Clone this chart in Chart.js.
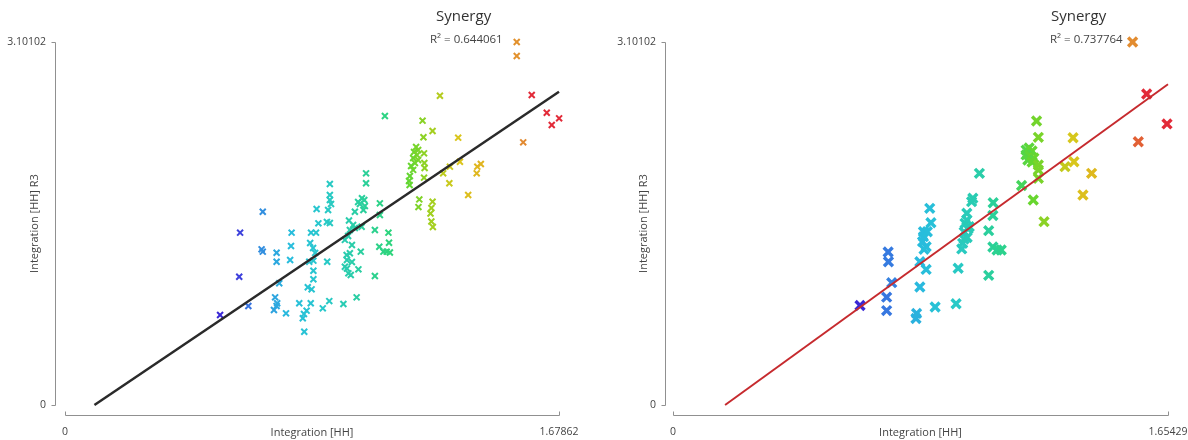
<!DOCTYPE html>
<html>
<head>
<meta charset="utf-8">
<script src="https://cdn.jsdelivr.net/npm/chart.js@4.4.1/dist/chart.umd.min.js"></script>
<style>
  html, body { margin: 0; padding: 0; background: #fff; }
  #wrap { display: flex; width: 1188px; height: 440px; }
</style>
</head>
<body>
<div id="wrap">
  <canvas id="left" width="594" height="440"></canvas>
  <canvas id="right" width="594" height="440"></canvas>
</div>
<script>
// ---- data ----
var leftX = [0.527,0.595,0.592,0.623,0.672,0.668,0.672,0.719,0.719,0.728,0.714,0.721,0.719,0.710,0.751,
  0.770,0.768,0.765,0.796,0.821,0.812,0.808,0.813,0.825,0.838,0.835,0.844,0.844,0.830,0.844,0.833,0.843,0.850,0.836,0.853,0.861,0.855,0.891,0.898,0.876,0.890,0.900,0.894,0.900,0.900,0.904,0.900,
  0.946,0.951,0.958,0.963,0.971,0.957,0.968,0.951,0.962,0.975,0.968,0.979,0.965,0.985,0.958,0.975,0.991,0.997,1.005,1.008,0.985,0.996,1.009,1.017,1.002,1.014,1.019,1.023,1.023,1.053,1.053,1.068,1.070,1.070,1.082,1.093,1.104,1.099,1.101,1.087,
  1.215,1.249,1.218,1.274,1.193,1.200,1.186,1.196,1.183,1.200,1.189,1.176,1.183,1.172,1.169,1.171,1.220,1.221,1.222,1.220,1.204,1.201,1.249,1.245,1.242,1.245,1.250,
  1.336,1.285,1.308,1.342,1.306,1.401,1.413,1.399,1.370,
  1.535,1.535,1.557,1.586,1.637,1.654,1.679];
var leftY = [0.769,1.472,1.096,0.846,1.651,1.330,1.310,1.301,1.224,1.040,0.920,0.869,0.846,0.812,0.783,
  1.472,1.358,1.239,0.869,0.806,0.777,0.741,0.626,1.006,0.988,0.869,1.074,1.147,1.224,1.233,1.384,1.341,1.299,1.472,1.472,1.552,1.674,1.224,0.888,0.826,1.563,1.555,1.666,1.794,1.751,1.717,1.888,
  0.863,1.181,1.166,1.125,1.111,1.281,1.296,1.410,1.444,1.367,1.495,1.538,1.576,1.512,1.239,1.222,0.920,1.159,1.310,1.523,1.651,1.734,1.766,1.751,1.717,1.666,1.700,1.979,1.894,1.102,1.495,1.352,1.623,1.723,1.310,1.310,1.303,1.472,1.386,2.469,
  2.429,2.341,2.287,2.642,2.204,2.178,2.161,2.136,2.110,2.093,2.067,2.042,2.008,1.956,1.914,1.879,2.150,2.067,2.025,1.942,1.756,1.691,1.737,1.683,1.636,1.568,1.521,
  2.284,1.979,2.036,2.078,1.894,2.036,2.059,1.979,1.794,
  3.101,2.981,2.244,2.648,2.497,2.392,2.449];

var rightX = [0.625,0.714,0.714,0.731,0.720,0.719,0.814,0.812,0.825,0.846,
  0.825,0.839,0.846,0.834,0.837,0.837,0.850,0.862,0.858,0.876,
  0.946,0.953,0.965,0.968,0.973,0.983,0.973,0.986,0.976,0.982,
  0.990,0.982,0.998,1.002,1.024,1.055,1.055,1.069,1.070,1.069,
  1.083,1.097,1.165,1.204,1.240,1.215,1.221,1.180,1.190,1.200,
  1.180,1.193,1.206,1.186,1.200,1.221,1.221,1.221,1.310,1.340,
  1.337,1.399,1.370,1.536,1.555,1.583,1.651];
var rightY = [0.850,0.807,0.921,1.045,1.224,1.307,0.782,0.739,1.008,1.158,
  1.224,1.330,1.352,1.395,1.438,1.480,1.480,1.557,1.680,0.837,
  0.865,1.168,1.333,1.381,1.418,1.431,1.478,1.504,1.552,1.580,
  1.523,1.638,1.737,1.766,1.979,1.108,1.489,1.619,1.728,1.350,
  1.324,1.324,1.875,1.751,1.566,2.426,2.287,2.178,2.196,2.170,
  2.136,2.127,2.110,2.093,2.076,2.050,2.008,1.937,2.036,2.078,
  2.283,1.979,1.794,3.101,2.249,2.657,2.401];

var leftTrendX = [0.100, 1.67862];
var leftTrendY = [0, 2.676];
var rightTrendX = [0.174, 1.65429];
var rightTrendY = [0, 2.740];

var yTicks = [0, 3.10102];
var yTickLabels = ['0', '3.10102'];
var leftXTicks = [0, 1.67862];
var leftXTickLabels = ['0', '1.67862'];
var rightXTicks = [0, 1.65429];
var rightXTickLabels = ['0', '1.65429'];

var chartTitle = 'Synergy';
var leftR2 = 'R\u00B2 = 0.644061';
var rightR2 = 'R\u00B2 = 0.737764';
var xTitle = 'Integration [HH]';
var yTitle = 'Integration [HH] R3';

// ---- colours: rainbow along x ----
var stops = [
  [0.00, [58, 40, 214]],
  [0.06, [62, 66, 220]],
  [0.085, [55, 118, 224]],
  [0.20, [40, 188, 222]],
  [0.30, [40, 200, 204]],
  [0.40, [42, 206, 165]],
  [0.50, [45, 212, 125]],
  [0.56, [100, 214, 48]],
  [0.62, [160, 208, 32]],
  [0.70, [218, 198, 28]],
  [0.80, [226, 172, 32]],
  [0.90, [226, 136, 50]],
  [0.915, [226, 42, 56]],
  [1.00, [226, 42, 56]]
];
function rainbow(t) {
  t = Math.max(0, Math.min(1, t));
  for (var i = 1; i < stops.length; i++) {
    if (t <= stops[i][0]) {
      var a = stops[i - 1], b = stops[i];
      var f = (t - a[0]) / (b[0] - a[0] || 1);
      var c = a[1].map(function (v, k) { return Math.round(v + (b[1][k] - v) * f); });
      return 'rgb(' + c.join(',') + ')';
    }
  }
  return 'rgb(226,42,56)';
}

var font = "'Open Sans', 'DejaVu Sans', sans-serif";

function makeChart(id, o) {
  var pts = o.xs.map(function (x, i) { return {x: x, y: o.ys[i]}; });
  var xmin = Math.min.apply(null, o.xs), xmax = Math.max.apply(null, o.xs);

  var axesPlugin = {
    id: 'axes' + id,
    afterDraw: function (chart) {
      var ctx = chart.ctx, a = chart.chartArea;
      var sx = chart.scales.x, sy = chart.scales.y;
      ctx.save();
      ctx.strokeStyle = '#909090';
      ctx.lineWidth = 1;
      ctx.beginPath();
      var ax = Math.round(a.left - o.yGap) + 0.5;
      var yt = Math.round(sy.getPixelForValue(o.yTicks[1])) + 0.5;
      var yb = Math.round(sy.getPixelForValue(o.yTicks[0])) + 0.5;
      ctx.moveTo(ax - 4, yt); ctx.lineTo(ax, yt); ctx.lineTo(ax, yb); ctx.lineTo(ax - 4, yb);
      var ay = Math.round(a.bottom + 10) + 0.5;
      var xl = Math.round(sx.getPixelForValue(o.xTicks[0])) + 0.5;
      var xr = Math.round(sx.getPixelForValue(o.xTicks[1])) + 0.5;
      ctx.moveTo(xl, ay - 4); ctx.lineTo(xl, ay); ctx.lineTo(xr, ay); ctx.lineTo(xr, ay - 4);
      ctx.stroke();

      ctx.textBaseline = 'middle';
      ctx.textAlign = 'left';
      ctx.fillStyle = '#333';
      ctx.font = '15px ' + font;
      ctx.fillText(chartTitle, o.titleX, 17);
      ctx.fillStyle = '#444';
      ctx.font = '11.5px ' + font;
      ctx.fillText(o.r2, o.r2X, 40);
      ctx.restore();
    }
  };

  return new Chart(document.getElementById(id), {
    type: 'scatter',
    data: {
      datasets: [{
        type: 'line',
        data: o.tx.map(function (x, i) { return {x: x, y: o.ty[i]}; }),
        borderColor: o.lineColor,
        borderWidth: o.lineWidth,
        pointRadius: 0,
        fill: false,
        clip: false
      }, {
        data: pts,
        pointStyle: 'crossRot',
        pointRadius: o.radius,
        pointBorderWidth: o.markWidth,
        borderWidth: o.markWidth,
        pointBorderColor: function (c) {
          if (!c.raw) return '#000';
          return rainbow((c.raw.x - xmin) / (xmax - xmin));
        },
        clip: false
      }]
    },
    options: {
      responsive: false,
      animation: false,
      events: [],
      layout: { padding: { left: 0, top: 42, right: 594 - o.areaRight, bottom: 0 } },
      plugins: { legend: { display: false }, tooltip: { enabled: false }, title: { display: false } },
      scales: {
        x: {
          type: 'linear', min: o.xTicks[0], max: o.xTicks[1],
          grid: { display: false, drawTicks: false }, border: { display: false },
          afterBuildTicks: function (s) { s.ticks = o.xTicks.map(function (v) { return {value: v}; }); },
          afterFit: function (s) { s.height = 35; s.paddingLeft = 0; s.paddingRight = 0; },
          ticks: {
            padding: 21, color: '#444', font: { family: font, size: 10.5 }, maxRotation: 0,
            callback: function (v, i) { return o.xLabels[i]; }
          },
          title: { display: true, text: xTitle, color: '#444', font: { family: font, size: 11 }, padding: { top: 0, bottom: 1 } }
        },
        y: {
          type: 'linear', min: yTicks[0], max: yTicks[1],
          grid: { display: false, drawTicks: false }, border: { display: false },
          afterBuildTicks: function (s) { s.ticks = o.yTicks.map(function (v) { return {value: v}; }); },
          afterFit: function (s) { s.width = o.areaLeft; s.paddingTop = 0; s.paddingBottom = 0; },
          ticks: {
            padding: o.yGap + 9, color: '#444', font: { family: font, size: 10.5 },
            callback: function (v, i) { return yTickLabels[i]; }
          },
          title: { display: true, text: yTitle, color: '#444', font: { family: font, size: 11 }, padding: { top: o.yTitleX - 6.6, bottom: 0 } }
        }
      }
    },
    plugins: [axesPlugin]
  });
}

makeChart('left', {
  xs: leftX, ys: leftY, tx: leftTrendX, ty: leftTrendY,
  xTicks: leftXTicks, xLabels: leftXTickLabels, yTicks: yTicks,
  r2: leftR2, titleX: 436, r2X: 430,
  areaLeft: 65, areaRight: 559, yGap: 10, yTitleX: 35,
  lineColor: '#2a2a2a', lineWidth: 2.5, radius: 4.2, markWidth: 2
});
makeChart('right', {
  xs: rightX, ys: rightY, tx: rightTrendX, ty: rightTrendY,
  xTicks: rightXTicks, xLabels: rightXTickLabels, yTicks: yTicks,
  r2: rightR2, titleX: 457, r2X: 456,
  areaLeft: 79, areaRight: 574, yGap: 8, yTitleX: 50,
  lineColor: '#c62a2e', lineWidth: 2, radius: 6.3, markWidth: 3.4
});
</script>
</body>
</html>
